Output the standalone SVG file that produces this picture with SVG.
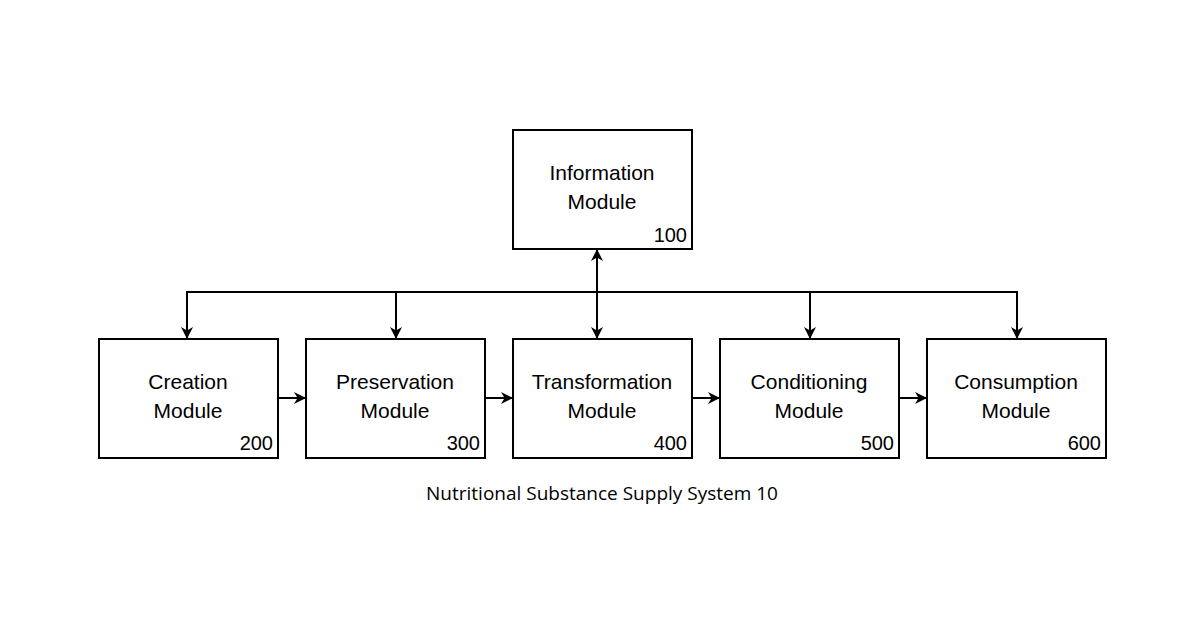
<svg xmlns="http://www.w3.org/2000/svg" width="1200" height="630" viewBox="0 0 1200 630">
<style>
.box{fill:#fff;stroke:#000;stroke-width:2}
.t{font-family:"Liberation Sans",Arial,sans-serif;font-size:21px;text-anchor:middle;fill:#000}
.n{font-family:"Liberation Sans",Arial,sans-serif;font-size:20px;text-anchor:end;fill:#000}
.c{font-family:"Open Sans",sans-serif;font-size:19px;text-anchor:middle;fill:#000}
.l{stroke:#000;stroke-width:2;fill:none}
</style>
<defs>
<marker id="a" viewBox="0 0 10 10" refX="10" refY="5" markerWidth="7" markerHeight="7" orient="auto-start-reverse" markerUnits="userSpaceOnUse"><path d="M0,0 L10,5 L0,10 z" fill="#000"/></marker>
<marker id="b" viewBox="0 0 10 10" refX="10" refY="5" markerWidth="12" markerHeight="12" orient="auto-start-reverse" markerUnits="userSpaceOnUse"><path d="M0,0 L10,5 L0,10 L3,5 z" fill="#000"/></marker>
</defs>
<g id="connectors">
<path class="l" d="M187,339 V292 H1017 V339"/>
<line class="l" x1="187" y1="300" x2="187" y2="339" marker-end="url(#b)"/>
<line class="l" x1="396" y1="292" x2="396" y2="339" marker-end="url(#b)"/>
<line class="l" x1="810" y1="292" x2="810" y2="339" marker-end="url(#b)"/>
<line class="l" x1="1017" y1="300" x2="1017" y2="339" marker-end="url(#b)"/>
<line class="l" x1="597" y1="249" x2="597" y2="339" marker-start="url(#b)" marker-end="url(#b)"/>
<line class="l" x1="278" y1="398" x2="306" y2="398" marker-end="url(#b)"/>
<line class="l" x1="485" y1="398" x2="513" y2="398" marker-end="url(#b)"/>
<line class="l" x1="692" y1="398" x2="720" y2="398" marker-end="url(#b)"/>
<line class="l" x1="899" y1="398" x2="927" y2="398" marker-end="url(#b)"/>
</g>
<g id="n100"><rect class="box" x="513" y="130" width="179" height="119"/><text class="t" x="602" y="180">Information</text><text class="t" x="602" y="209">Module</text><text class="n" x="687" y="242">100</text></g>
<g id="n200"><rect class="box" x="99" y="339" width="179" height="119"/><text class="t" x="188" y="389">Creation</text><text class="t" x="188" y="418">Module</text><text class="n" x="273" y="450">200</text></g>
<g id="n300"><rect class="box" x="306" y="339" width="179" height="119"/><text class="t" x="395" y="389">Preservation</text><text class="t" x="395" y="418">Module</text><text class="n" x="480" y="450">300</text></g>
<g id="n400"><rect class="box" x="513" y="339" width="179" height="119"/><text class="t" x="602" y="389">Transformation</text><text class="t" x="602" y="418">Module</text><text class="n" x="687" y="450">400</text></g>
<g id="n500"><rect class="box" x="720" y="339" width="179" height="119"/><text class="t" x="809" y="389">Conditioning</text><text class="t" x="809" y="418">Module</text><text class="n" x="894" y="450">500</text></g>
<g id="n600"><rect class="box" x="927" y="339" width="179" height="119"/><text class="t" x="1016" y="389">Consumption</text><text class="t" x="1016" y="418">Module</text><text class="n" x="1101" y="450">600</text></g>
<text class="c" x="602" y="500">Nutritional Substance Supply System   10</text>
</svg>
